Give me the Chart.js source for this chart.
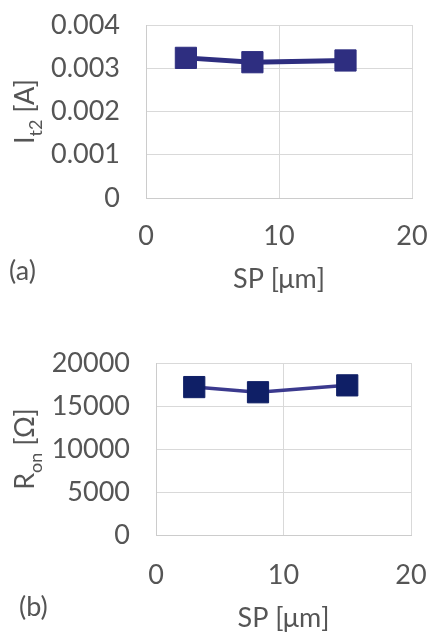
<!DOCTYPE html>
<html>
<head>
<meta charset="utf-8">
<script src="https://cdn.jsdelivr.net/npm/chart.js@4"></script>
<style>
  html, body { margin: 0; padding: 0; background: #ffffff; overflow: hidden; }
  #wrap { position: relative; width: 430px; height: 633px; }
  canvas { position: absolute; left: 0; }
  #chartA { top: 0; }
  #chartB { top: 300px; }
</style>
</head>
<body>
<div id="wrap">
  <canvas id="chartA" width="430" height="300"></canvas>
  <canvas id="chartB" width="430" height="333"></canvas>
</div>
<script>
// Spacing SP [µm] for the three measured devices
const spacing = [3, 8, 15];
// (a) failure current It2 [A]
const it2 = [0.00324, 0.00314, 0.00318];
// (b) on-resistance Ron [Ω]
const ron = [17200, 16600, 17400];

// Axis ranges and tick steps
const xRange = [0, 20], xStep = 10;
const yRangeA = [0, 0.004], yStepA = 0.001;
const yRangeB = [0, 20000], yStepB = 5000;

const TEXT = '#555555';
const GRID = '#d9d9d9';
const FONT = 'Lato, "Open Sans", sans-serif';
const BIG = 27;
const SUB = 18;

// Draws the rotated y title with a subscript and the panel letter
const overlay = {
  id: 'overlay',
  afterDraw(chart, args, o) {
    const ctx = chart.ctx;
    const a = chart.chartArea;
    const big = `${BIG}px ${FONT}`;
    const sub = `${SUB}px ${FONT}`;
    ctx.save();
    ctx.fillStyle = TEXT;
    ctx.font = big; const w1 = ctx.measureText(o.main).width;
    ctx.font = sub; const w2 = ctx.measureText(o.sub).width;
    ctx.font = big; const w3 = ctx.measureText(o.unit).width;
    const total = w1 + w2 + w3;
    ctx.translate(o.titleX, (a.top + a.bottom) / 2);
    ctx.rotate(-Math.PI / 2);
    ctx.textAlign = 'left';
    ctx.textBaseline = 'alphabetic';
    let x = -total / 2;
    ctx.font = big; ctx.fillText(o.main, x, 0); x += w1;
    ctx.font = sub; ctx.fillText(o.sub, x, 8); x += w2;
    ctx.font = big; ctx.fillText(o.unit, x, 0);
    ctx.restore();

    ctx.save();
    ctx.fillStyle = TEXT;
    ctx.font = big;
    ctx.textAlign = 'left';
    ctx.textBaseline = 'middle';
    ctx.fillText(o.panel, o.panelX, o.panelY);
    ctx.restore();
  }
};

function fmt(v) {
  return String(Math.round(v * 1e6) / 1e6);
}

// Scales keep exactly the size given; the layout padding sets the plot frame
function noOverhang(s) {
  s.paddingTop = 0; s.paddingBottom = 0;
  s.paddingLeft = 0; s.paddingRight = 0;
}

function makeChart(id, values, opt) {
  return new Chart(document.getElementById(id), {
    type: 'line',
    data: {
      datasets: [{
        data: spacing.map((x, i) => ({ x: x, y: values[i] })),
        borderColor: opt.line,
        borderWidth: opt.lineWidth,
        backgroundColor: opt.marker,
        pointStyle: 'rect',
        pointRadius: 15,
        pointHoverRadius: 15,
        pointBackgroundColor: opt.marker,
        pointBorderColor: opt.marker,
        pointBorderWidth: 1,
        tension: 0,
        fill: false
      }]
    },
    plugins: [overlay],
    options: {
      responsive: false,
      animation: false,
      events: [],
      layout: { padding: opt.padding },
      plugins: {
        legend: { display: false },
        tooltip: { enabled: false },
        overlay: opt.overlay
      },
      scales: {
        x: {
          type: 'linear',
          min: xRange[0], max: xRange[1],
          afterFit: s => { s.height = opt.xHeight; noOverhang(s); },
          ticks: {
            stepSize: xStep,
            color: TEXT,
            font: { family: FONT, size: BIG },
            padding: opt.xTickPad,
            maxRotation: 0,
            callback: fmt
          },
          grid: { color: GRID, lineWidth: 1, drawTicks: false },
          border: { color: '#cccccc', width: 1 },
          title: {
            display: true,
            text: 'SP [μm]',
            color: TEXT,
            font: { family: FONT, size: BIG, lineHeight: 1.0 },
            padding: { top: 0, bottom: opt.xTitlePad }
          }
        },
        y: {
          type: 'linear',
          min: opt.yRange[0], max: opt.yRange[1],
          afterFit: s => { s.width = opt.yWidth; noOverhang(s); },
          ticks: {
            stepSize: opt.yStep,
            color: TEXT,
            font: { family: FONT, size: BIG },
            padding: 26,
            callback: fmt
          },
          grid: { color: GRID, lineWidth: 1, drawTicks: false },
          border: { color: '#cccccc', width: 1 }
        }
      }
    }
  });
}

makeChart('chartA', it2, {
  line: '#2e2e80', marker: '#2e2e80', lineWidth: 5,
  yRange: yRangeA, yStep: yStepA,
  padding: { left: 0, top: 25, right: 18, bottom: 0 },
  yWidth: 146, xHeight: 102, xTickPad: 22, xTitlePad: 7,
  overlay: { main: 'I', sub: 't2', unit: ' [A]', titleX: 34, panel: '(a)', panelX: 9, panelY: 271 }
});

makeChart('chartB', ron, {
  line: '#3b3a8e', marker: '#0f1f66', lineWidth: 3.5,
  yRange: yRangeB, yStep: yStepB,
  padding: { left: 0, top: 63, right: 19, bottom: 0 },
  yWidth: 156, xHeight: 98, xTickPad: 24, xTitlePad: 1,
  overlay: { main: 'R', sub: 'on', unit: ' [Ω]', titleX: 34, panel: '(b)', panelX: 19, panelY: 307 }
});
</script>
</body>
</html>
